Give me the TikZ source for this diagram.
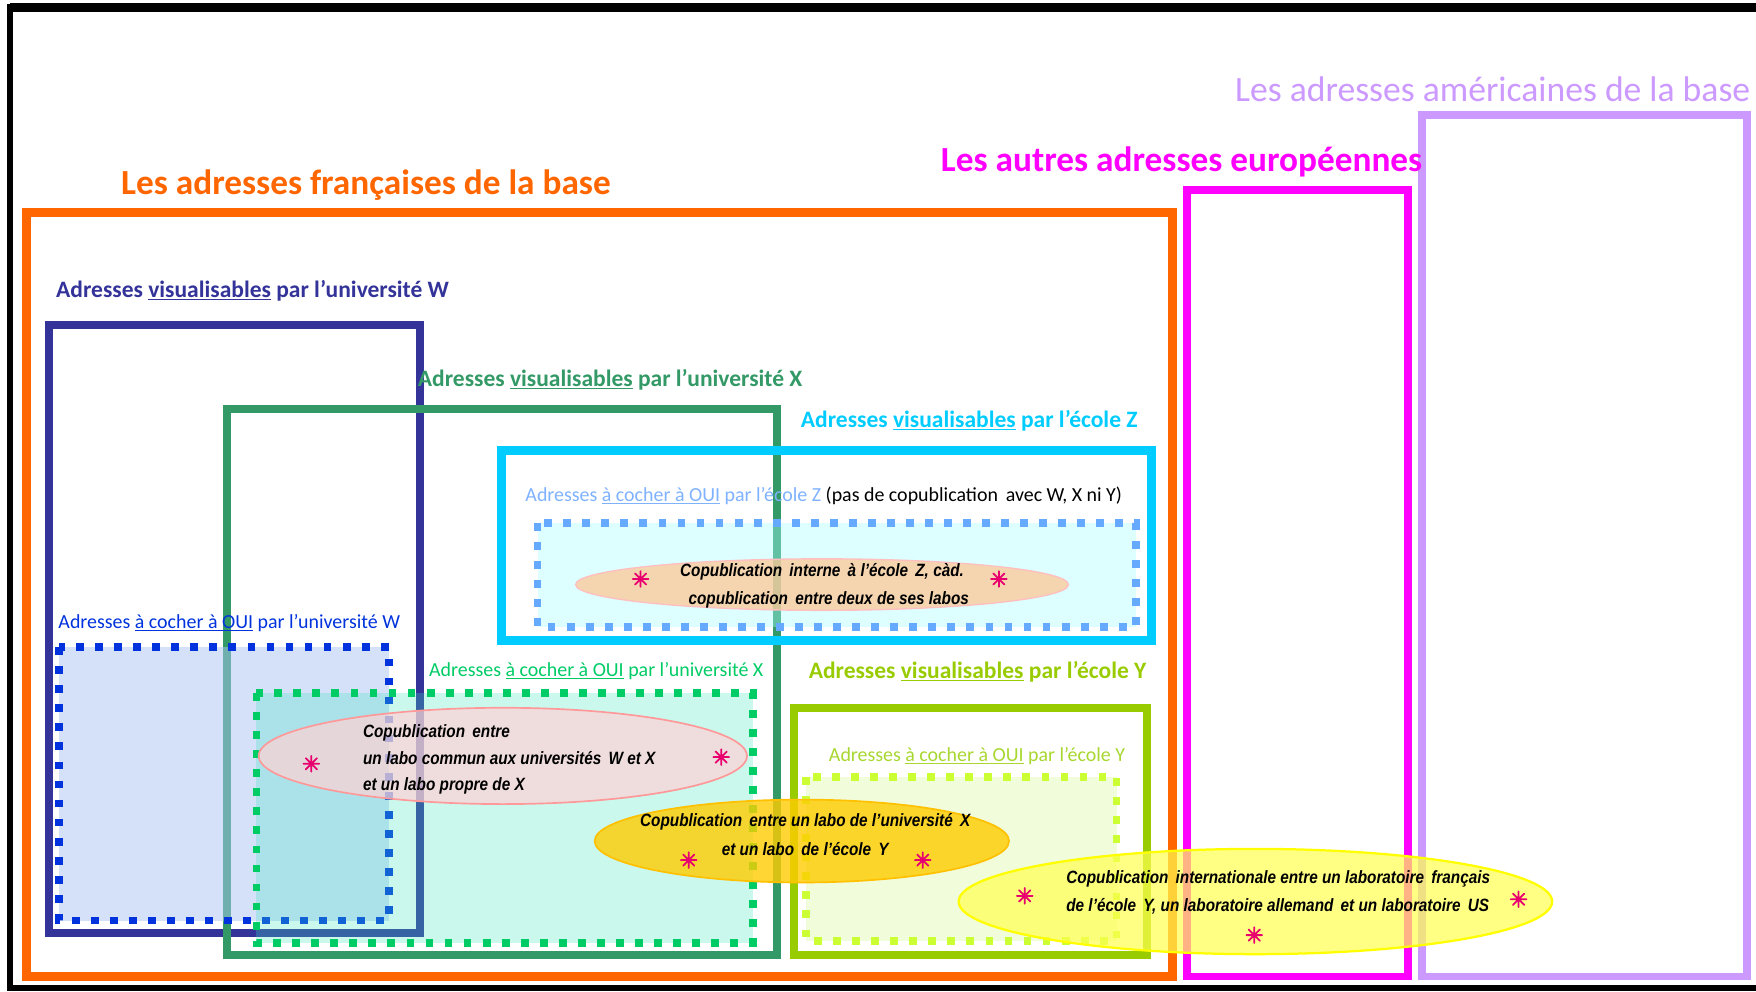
\documentclass[tikz,border=0pt]{standalone}
\usepackage{fontspec}
\setmainfont{Carlito}
\newfontfamily\arialf[FakeStretch=0.86]{Liberation Sans}
\definecolor{orangeC}{HTML}{FF6600}
\definecolor{magC}{HTML}{FF00FF}
\definecolor{lavC}{HTML}{CC99FF}
\definecolor{navyC}{HTML}{333399}
\definecolor{greenC}{HTML}{339966}
\definecolor{cyanC}{HTML}{00CCFF}
\definecolor{ygreenC}{HTML}{99CC00}
\definecolor{wchkC}{HTML}{0033DD}
\definecolor{wchkF}{HTML}{ABC5F5}
\definecolor{xchkC}{HTML}{00CC66}
\definecolor{xchkF}{HTML}{40E6C0}
\definecolor{zchkC}{HTML}{66AAFF}
\definecolor{zchkL}{HTML}{7FB2FF}
\definecolor{zchkF}{HTML}{AAFFFF}
\definecolor{ychkC}{HTML}{CCFF33}
\definecolor{ychkL}{HTML}{A8D830}
\definecolor{ychkF}{HTML}{C8F56E}
\definecolor{zellF}{HTML}{FDC796}
\definecolor{zellD}{HTML}{FFBFBF}
\definecolor{pellF}{HTML}{FFD1D5}
\definecolor{pellD}{HTML}{FF9999}
\definecolor{oellF}{HTML}{FFCC00}
\definecolor{oellD}{HTML}{FFC000}
\definecolor{yellF}{HTML}{FFFF50}
\definecolor{yellD}{HTML}{FFFF00}
\definecolor{starC}{HTML}{E8006E}
\begin{document}
\begin{tikzpicture}[x=1pt,y=-1pt,
  rbox/.style={line width=7pt},
  chkbox/.style={line width=7pt, dash pattern=on 7pt off 10pt},
  titlelab/.style={font=\fontsize{31.5}{36}\selectfont\bfseries, inner sep=0pt, anchor=west},
  vislab/.style={font=\fontsize{21}{25}\selectfont\bfseries, inner sep=0pt, anchor=west},
  chklab/.style={font=\fontsize{17.8}{21}\selectfont, inner sep=0pt, anchor=west},
  eltext/.style={font=\arialf\bfseries\itshape\fontsize{15.9}{18}\selectfont, inner sep=0pt, text=black},
  astpic/.pic={\draw[line width=1.6pt, draw=starC, line cap=round] (-7,0)--(7,0) (0,-7)--(0,7) (-5,-5)--(5,5) (-5,5)--(5,-5);}
]
\useasboundingbox (0,0) rectangle (1568,885);
\fill[white] (0,0) rectangle (1568,885);
% outer frame
\draw[line width=8pt] (1568,7) -- (9,7);
\draw[line width=5pt] (9,4) -- (9,882) -- (1568,882);

% big boxes
\draw[rbox, line width=8pt, orangeC] (24,190) rectangle (1047,872);
\draw[rbox, magC] (1060,170) rectangle (1257,872);
\draw[rbox, lavC] (1270,103) rectangle (1560,872);

\node[titlelab, text=orangeC] (tfr) at (108,165) {Les adresses françaises de la base};
\node[titlelab, text=magC] (teu) at (840,145) {Les autres adresses européennes};
\node[titlelab, font=\fontsize{31.8}{36}\selectfont, text=lavC, anchor=east] (tus) at (1563,80) {Les adresses américaines de la base};

% visualisable boxes
\draw[rbox, navyC] (44,290) rectangle (375,833);
\draw[rbox, greenC] (203,365) rectangle (694,853);
\draw[rbox, line width=8pt, cyanC] (448,402) rectangle (1028,572);
\draw[rbox, ygreenC] (709,632) rectangle (1024,853);

\node[vislab, text=navyC] (lw) at (50,260) {Adresses \underline{visualisables} par l’université W};
\node[vislab, text=greenC] (lx) at (373,339) {Adresses \underline{visualisables} par l’université X};
\node[vislab, text=cyanC] (lz) at (715,376) {Adresses \underline{visualisables} par l’école Z};
\node[vislab, text=ygreenC] (ly) at (722,600) {Adresses \underline{visualisables} par l’école Y};

% check boxes
\fill[wchkF, fill opacity=0.5] (53,578) rectangle (347,822);
\draw[chkbox, wchkC] (53,578) rectangle (347,822);
\fill[xchkF, fill opacity=0.27] (229,619) rectangle (672,842);
\draw[chkbox, xchkC] (229,619) rectangle (672,842);
\fill[zchkF, fill opacity=0.4] (480,467) rectangle (1014,560);
\draw[chkbox, zchkC] (480,467) rectangle (1014,560);
\fill[ychkF, fill opacity=0.25] (720,694) rectangle (997,840);
\draw[chkbox, ychkC] (720,694) rectangle (997,840);

\node[chklab, text=wchkC] (cw) at (52,556) {Adresses \underline{à cocher à OUI} par l’université W};
\node[chklab, text=xchkC] (cx) at (383,599) {Adresses \underline{à cocher à OUI} par l’université X};
\node[chklab, text=zchkL] (cz) at (469,443) {Adresses \underline{à cocher à OUI} par l’école Z \textcolor{black}{(pas de copublication\, avec W, X ni Y)}};
\node[chklab, text=ychkL] (cy) at (740,675) {Adresses \underline{à cocher à OUI} par l’école Y};

% ellipses
\draw[draw=zellD, line width=1.2pt, fill=zellF, fill opacity=0.75] (734,522) ellipse [x radius=220pt, y radius=23pt];
\node[eltext] (ez1) at (734,511) {Copublication\, interne\, à l’école\, Z, càd.};
\node[eltext] (ez2) at (740,536) {copublication\, entre deux de ses labos};
\pic at (572,517) {astpic};
\pic at (892,517) {astpic};

\draw[draw=pellD, line width=1.5pt, fill=pellF, fill opacity=0.7] (449,675) ellipse [x radius=218pt, y radius=43pt];
\node[eltext, anchor=west] (ep1) at (324,654) {Copublication\, entre};
\node[eltext, anchor=west] (ep2) at (324,677) {un labo commun aux universités\, W et X};
\node[eltext, anchor=west] (ep3) at (324,702) {et un labo propre de X};
\pic at (278,682) {astpic};
\pic at (644,676) {astpic};

\draw[draw=oellD, line width=1.5pt, fill=oellF, fill opacity=0.8] (716,751) ellipse [x radius=185pt, y radius=37pt];
\node[eltext] (eo1) at (719,734) {Copublication\, entre un labo de l’université\, X};
\node[eltext] (eo2) at (719,758) {et un labo\, de l’école\, Y};
\pic at (615,768) {astpic};
\pic at (824,768) {astpic};

\draw[draw=yellD, line width=2pt, fill=yellF, fill opacity=0.7] (1121,805) ellipse [x radius=265pt, y radius=47pt];
\node[eltext, anchor=west] (ey1) at (952,785) {Copublication\, internationale entre un laboratoire\, français};
\node[eltext, anchor=west] (ey2) at (952,809) {de l’école\, Y, un laboratoire allemand\, et un laboratoire\, US};
\pic at (915,800) {astpic};
\pic at (1356,803) {astpic};
\pic at (1120,835) {astpic};
\end{tikzpicture}
\end{document}
